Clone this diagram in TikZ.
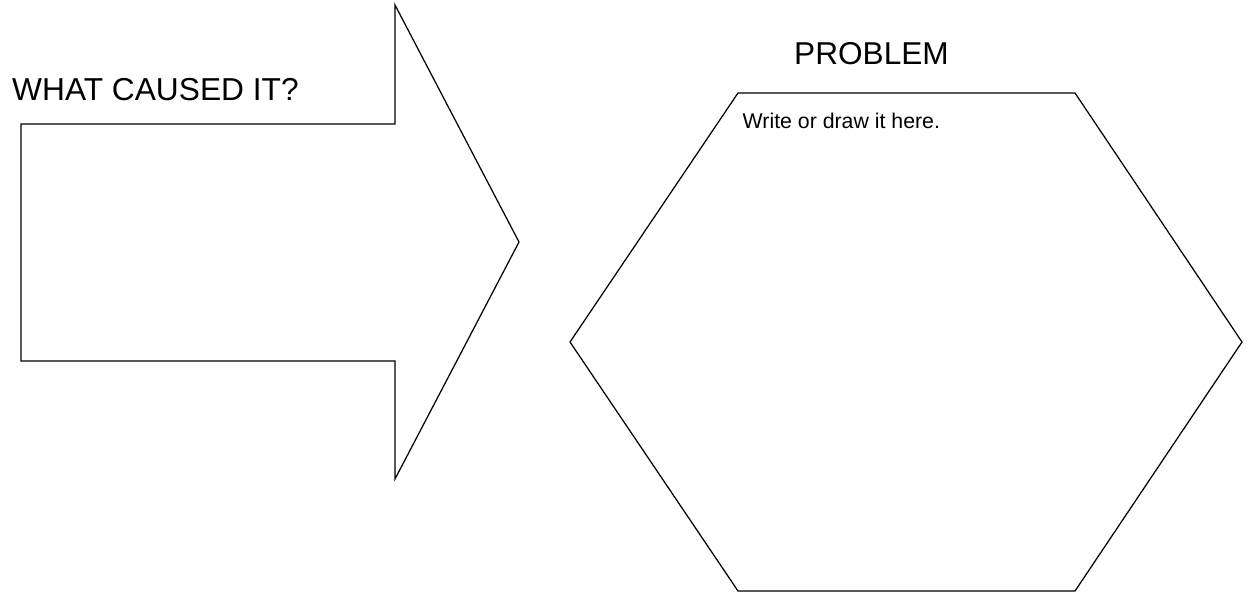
\documentclass[tikz,border=0pt]{standalone}
\usepackage{fontspec}
\setmainfont{Liberation Sans}
\definecolor{inkblack}{HTML}{000000}

\begin{document}
\begin{tikzpicture}[x=1pt, y=-1pt, line join=miter]

% Canvas
\useasboundingbox (0,0) rectangle (1248,592);

% ================================================================
% Block arrow (cause)
% ================================================================
\coordinate (aTL) at (21, 124);
\coordinate (aTR) at (395, 124);
\coordinate (aTop) at (395, 5);
\coordinate (aTip) at (519, 242);
\coordinate (aBot) at (395, 479);
\coordinate (aBR) at (395, 361);
\coordinate (aBL) at (21, 361);

\draw[inkblack, line width=1.25pt]
  (aTL) -- (aTR) -- (aTop) -- (aTip) -- (aBot) -- (aBR) -- (aBL) -- cycle;

\node[text=inkblack, font=\fontsize{31.7}{38}\selectfont, anchor=base west,
      inner sep=0pt]
  (cause) at (12, 100) {WHAT CAUSED IT?};

% ================================================================
% Hexagon (problem)
% ================================================================
\coordinate (hTL) at (738, 93);
\coordinate (hTR) at (1075, 93);
\coordinate (hR)  at (1242, 342);
\coordinate (hBR) at (1075, 591);
\coordinate (hBL) at (738, 591);
\coordinate (hL)  at (570, 342);

\draw[inkblack, line width=1.25pt]
  (hTL) -- (hTR) -- (hR) -- (hBR) -- (hBL) -- (hL) -- cycle;

\node[text=inkblack, font=\fontsize{31.6}{38}\selectfont, anchor=base,
      inner sep=0pt]
  (problem) at (871.5, 64) {PROBLEM};

\node[text=inkblack, font=\fontsize{21.3}{26}\selectfont, anchor=base west,
      inner sep=0pt]
  (hint) at (742.5, 128) {Write or draw it here.};

\end{tikzpicture}
\end{document}
